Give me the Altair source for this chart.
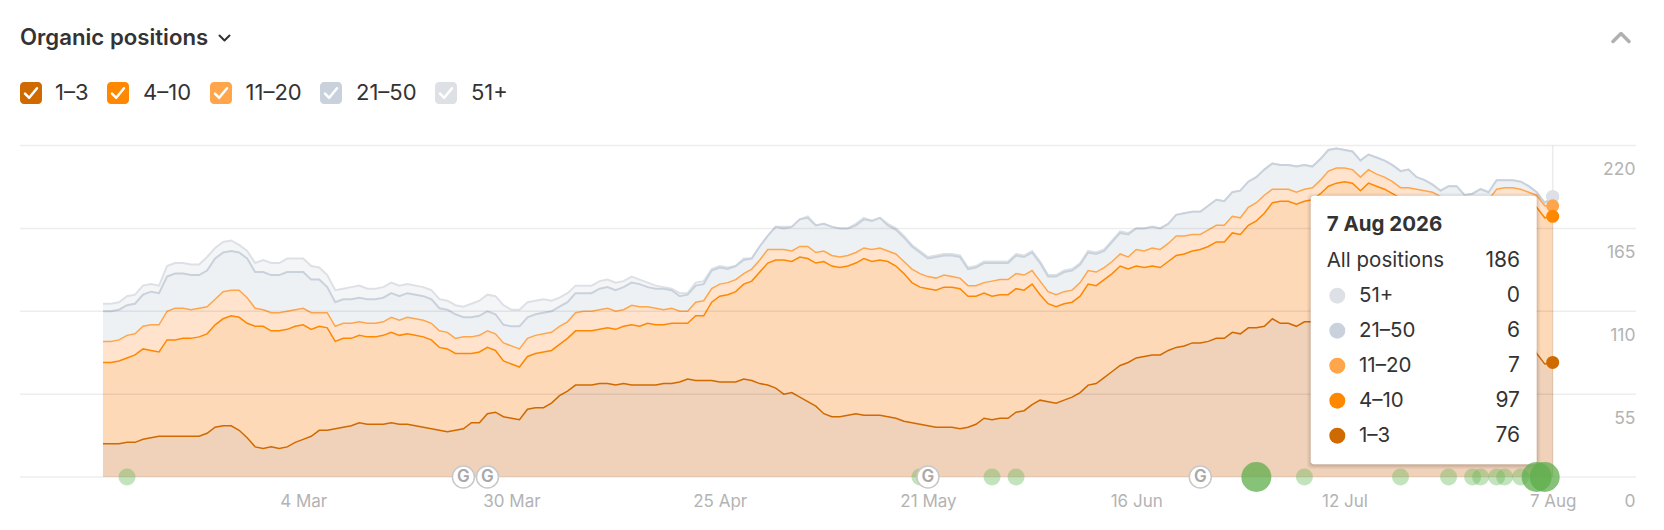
import altair as alt
import pandas as pd

# Cumulative top of each band, one value per day from 7 Feb 2026
top_1_3 = [22,22,22,23,23,25,26,27,27,27, 27,27,27,29,33,34,34,31,26,20, 19,20,19,20,23,25,27,31,31,32, 33,34,36,35,35,35,36,35,35,34, 33,32,31,30,31,32,36,36,42,43,
           40,39,38,45,46,46,49,54,57,61, 61,61,62,62,61,62,61,61,61,61, 62,62,63,65,64,64,64,63,63,63, 65,64,62,61,59,55,56,53,50,47, 42,40,40,41,42,41,41,41,40,39,
           37,36,35,34,33,33,33,32,33,35, 39,38,39,39,43,44,48,51,50,49, 51,53,56,61,62,66,70,74,76,79, 80,81,81,84,86,87,89,89,90,92, 92,96,95,99,99,100,105,102,102,100,
           103,103,102,103,104,104,103,100,102,101, 100,99,97,97,95,95,94,93,93,93, 91,91,92,91,95,95,95,94,91,82, 75,76]
top_4_10 = [76,76,77,79,81,85,84,83,91,91, 92,92,93,95,101,105,107,106,102,100, 100,97,97,98,100,101,98,100,99,90, 92,92,94,93,93,94,96,94,95,94, 93,91,86,85,82,82,82,83,86,84,
            77,75,73,80,82,83,84,88,92,97, 97,97,98,99,98,100,101,100,102,101, 101,102,102,102,107,107,116,120,121,123, 128,130,136,142,144,144,143,146,145,142, 143,140,139,140,142,145,143,144,143,140,
            135,129,126,125,124,126,126,125,120,120, 122,120,121,121,125,124,128,121,115,113, 115,116,120,128,127,131,135,140,138,140, 139,140,139,143,147,148,150,151,153,156, 156,162,161,167,170,175,182,183,183,181,
            183,184,188,193,195,196,195,190,195,193, 191,188,185,185,183,182,181,179,179,179, 177,178,179,178,185,186,186,186,183,179, 172,173]
top_11_20 = [90,90,91,94,95,100,101,101,110,112, 112,111,112,113,118,123,124,124,119,112, 111,109,109,110,111,112,109,109,109,100, 102,102,103,102,102,103,106,104,106,105, 104,102,97,96,92,93,93,94,97,95,
             89,87,85,92,94,95,96,100,103,109, 110,110,111,112,110,111,114,113,113,112, 111,112,110,110,116,117,125,128,129,131, 135,138,144,151,151,151,150,153,153,149, 150,147,146,147,149,152,151,152,150,148,
             143,138,135,133,132,134,133,132,127,127, 129,130,131,131,135,134,137,130,123,121, 123,124,129,137,136,139,143,148,146,151, 150,152,151,155,160,160,161,161,164,167, 167,173,172,179,182,187,191,191,191,189,
             191,192,197,203,205,205,204,199,204,201, 199,196,192,192,191,190,189,186,185,185, 183,184,185,184,191,192,192,191,189,187, 180,180]
top_21_50 = [110,110,111,114,115,121,123,122,133,135, 135,134,134,137,145,149,150,149,145,136, 136,134,134,136,136,136,131,131,126,116, 118,118,119,118,118,119,122,120,122,121, 120,118,112,111,108,106,106,107,110,108,
             101,100,100,106,108,109,110,113,116,122, 122,122,125,126,124,126,129,128,126,125, 125,124,120,121,127,128,137,139,138,140, 144,145,153,160,166,165,166,171,172,167, 168,166,165,165,167,171,170,172,167,164,
             159,153,149,145,146,147,147,146,138,139, 142,142,142,142,147,146,149,142,133,133, 136,137,141,149,148,150,156,162,161,165, 165,166,165,168,174,175,176,176,180,184, 183,189,190,196,199,204,208,207,207,206,
             207,206,211,217,218,217,216,210,214,212, 210,207,203,204,199,197,194,190,193,193, 187,188,191,189,197,197,197,196,193,189, 182,186]
top_51 = [115,115,116,120,121,127,128,127,140,142, 142,141,141,146,152,156,157,154,150,142, 144,142,142,145,145,145,140,139,134,124, 125,126,127,125,125,126,129,127,128,127, 126,124,118,117,114,113,115,117,121,120,
          114,111,111,116,117,118,117,119,122,127, 127,127,130,131,129,130,133,131,129,127, 126,125,122,122,129,130,138,140,139,140, 145,145,153,160,166,166,166,171,173,167, 168,166,165,165,168,172,170,172,168,165,
          160,154,150,146,147,148,148,147,139,140, 143,143,143,143,148,147,150,143,134,134, 137,138,142,150,149,151,157,163,162,165, 165,166,165,168,174,175,176,176,180,184, 183,189,190,196,199,204,208,207,207,206,
          207,206,211,217,218,217,216,210,214,212, 210,207,203,204,199,197,194,190,193,193, 187,188,191,189,197,197,197,196,193,189, 182,186]

y_ticks = [0, 55, 110, 165, 220]
x_ticks = ["2026-03-04", "2026-03-30", "2026-04-25", "2026-05-21", "2026-06-16", "2026-07-12", "2026-08-07"]
small_event_days = [3, 102, 111, 114, 150, 162, 168, 171, 172, 174, 175, 177]
big_event_days = [144, 179, 180]
google_days = [45, 48, 103, 137]

legend_names = ["1–3", "4–10", "11–20", "21–50", "51+"]
tooltip_names = ["51+", "21–50", "11–20", "4–10", "1–3"]
tooltip_values = [0, 6, 7, 97, 76]
tooltip_total = 186

c_1_3, c_4_10, c_11_20, c_21_50, c_51 = "#cf6a00", "#ff8800", "#ffa64d", "#c9d2dc", "#dde1e6"
FONT = "Inter"
TXT = "#333333"
GREY = "#b3b3b3"

start = pd.Timestamp("2026-02-07")
dates = [(start + pd.Timedelta(days=i)).strftime("%Y-%m-%dT00:00:00Z") for i in range(len(top_51))]
df = pd.DataFrame({"date": dates, "a": top_1_3, "b": top_4_10, "c": top_11_20, "d": top_21_50, "e": top_51})


def day(i):
    return dates[i]


W, H = 1616, 331.5
OX, OY = 20, 145.5
xs = alt.Scale(type="utc", domain=["2026-01-27T15:22:00Z", "2026-08-17T09:36:00Z"])
ys = alt.Scale(domain=[0, 220], nice=False, zero=True)
x_axis = alt.Axis(values=x_ticks, format="%-d %b", title=None, grid=False, domain=False, ticks=False,
                  labelFont=FONT, labelFontSize=17, labelColor=GREY, labelPadding=24,
                  labelBaseline="middle", labelFlush=False)
y_axis = alt.Axis(orient="right", values=y_ticks, title=None, grid=False, domain=False, ticks=False,
                  labelFont=FONT, labelFontSize=17.5, labelColor=GREY, labelAlign="right",
                  labelPadding=-1, labelOffset=24, labelBaseline="middle")
X = alt.X("date:T", scale=xs, axis=x_axis)


def Y(field):
    return alt.Y(f"{field}:Q", scale=ys, axis=y_axis)


one = pd.DataFrame({"k": [0]})


def px(v):
    return alt.value(v - OX)


def py(v):
    return alt.value(v - OY)


def label(text, x, y, size=20, weight=400, color=TXT, align="left"):
    return alt.Chart(one).mark_text(text=text, font=FONT, fontSize=size, fontWeight=weight, color=color,
                                    align=align, baseline="middle").encode(x=px(x), y=py(y))


def rect(x0, x1, y0, y1, color, opacity=1.0, radius=3):
    return alt.Chart(one).mark_rect(color=color, opacity=opacity, cornerRadius=radius).encode(
        x=px(x0), x2=px(x1), y=py(y0), y2=py(y1))


def glyph(path, x, y, size, color, width):
    return alt.Chart(one).mark_point(shape=path, size=size, filled=False, stroke=color, strokeWidth=width,
                                     opacity=1, strokeCap="round", strokeJoin="round").encode(x=px(x), y=py(y))


layers = []

for field, fill, line, lw in [("e", "#f4f5f7", c_51, 2), ("d", "#edf1f4", c_21_50, 2), ("c", "#ffe3cc", c_11_20, 1.5),
                              ("b", "#fed9b8", c_4_10, 1.5), ("a", "#f0d1b9", c_1_3, 1.5)]:
    layers.append(alt.Chart(df).mark_area(color=fill).encode(x=X, y=Y(field)))
    layers.append(alt.Chart(df).mark_line(color=line, strokeWidth=lw).encode(x=X, y=Y(field)))

# Grid over the areas
layers.append(alt.Chart(pd.DataFrame({"t": y_ticks})).mark_rule(color="#000000", opacity=0.07, strokeWidth=1.5).encode(
    y=Y("t"), x=alt.value(0), x2=alt.value(W)))
# Hover rule and dots
last = df.iloc[[-1]]
layers.append(alt.Chart(last).mark_rule(color="#000000", opacity=0.08, strokeWidth=1.5).encode(x=X))
for field, col in [("d", c_21_50), ("e", c_51), ("c", c_11_20), ("b", c_4_10), ("a", c_1_3)]:
    layers.append(alt.Chart(last).mark_point(filled=True, color=col, size=170, opacity=1).encode(x=X, y=Y(field)))

# Tooltip
TX0, TX1, TY0, TY1 = 1310.7, 1536.7, 195.7, 464.3
for grow, op in [(4, 0.02), (3, 0.03), (2, 0.04), (1, 0.06)]:
    layers.append(rect(TX0 - grow, TX1 + grow, TY0 - grow + 1, TY1 + grow + 1, "#000000", op, 4))
layers.append(rect(TX0, TX1, TY0, TY1, "#ffffff"))
layers.append(label("7 Aug 2026", 1326.7, 225, size=20.5, weight=700))
layers.append(label("All positions", 1326.7, 260.7, size=20.5))
layers.append(label(str(tooltip_total), 1520, 260.7, size=21, align="right"))
row_y = [295.7, 330.7, 365.7, 400.7, 435.7]
for name, val, yy, col in zip(tooltip_names, tooltip_values, row_y, [c_51, c_21_50, c_11_20, c_4_10, c_1_3]):
    layers.append(alt.Chart(one).mark_point(filled=True, color=col, size=256, opacity=1).encode(x=px(1337.3), y=py(yy)))
    layers.append(label(name, 1359, yy, size=20.5))
    layers.append(label(str(val), 1520, yy, size=21, align="right"))

# Events on the baseline
ev_small = pd.DataFrame({"date": [day(i) for i in small_event_days], "v": 0})
ev_big = pd.DataFrame({"date": [day(i) for i in big_event_days], "v": 0})
ev_g = pd.DataFrame({"date": [day(i) for i in google_days], "v": 0})
layers.append(alt.Chart(ev_small).mark_point(filled=True, color="#66b85a", size=289, opacity=0.4).encode(x=X, y=Y("v")))
layers.append(alt.Chart(ev_big).mark_point(filled=True, color="#5fae4c", size=900, opacity=0.75).encode(x=X, y=Y("v")))
layers.append(alt.Chart(ev_g).mark_point(filled=True, fill="#ffffff", stroke="#c8c8c8", strokeWidth=1.5, size=484, opacity=1).encode(x=X, y=Y("v")))
layers.append(alt.Chart(ev_g).mark_text(text="G", font=FONT, fontSize=17, fontWeight=600, color="#a8a8a8", baseline="middle").encode(x=X, y=Y("v")))

# Header
layers.append(label("Organic positions", 20, 38, size=22.2, weight=600))
layers.append(glyph("M-1,-0.5L0,0.5L1,-0.5", 224.5, 38, 100, "#333333", 2))
layers.append(glyph("M-1,0.5L0,-0.5L1,0.5", 1621, 37.5, 256, "#b0b0b0", 3.5))
boxes = [(20, 42), (107, 129), (210, 232), (320, 342), (435, 457)]
text_x = [55, 143, 245.5, 356, 471]
for (b0, b1), tx, name, col in zip(boxes, text_x, legend_names, [c_1_3, c_4_10, c_11_20, c_21_50, c_51]):
    layers.append(rect(b0, b1, 82, 104, col, 1.0, 4))
    layers.append(glyph("M-1,0.1L-0.3,0.8L1,-0.8", (b0 + b1) / 2, 93, 144, "#ffffff", 2.5))
    layers.append(label(name, tx, 93, size=22))

chart = alt.layer(*layers).properties(
    width=W, height=H,
    padding={"left": 12, "top": 137.5, "right": 20, "bottom": 42},
    autosize=alt.AutoSizeParams(type="none", contains="content"),
).configure_view(stroke=None)

chart.save("out.html", embed_options={"renderer": "svg", "actions": False})
